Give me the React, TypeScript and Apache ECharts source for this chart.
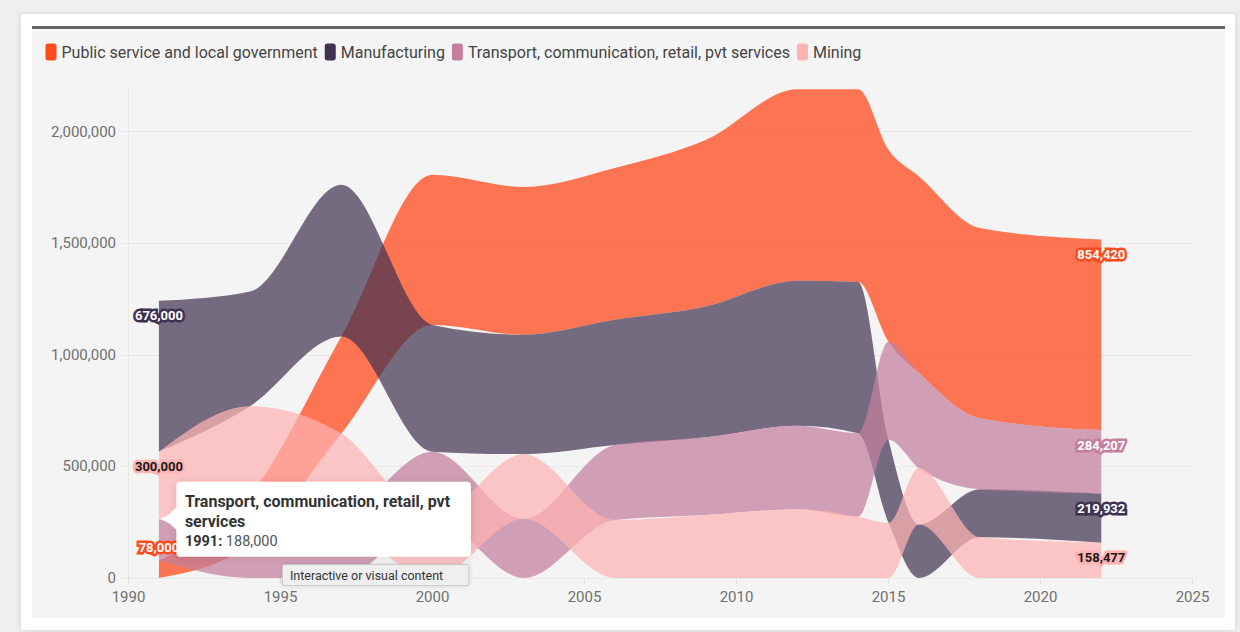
import React, { useEffect, useRef } from "react";
import * as echarts from "echarts";

// ---- data ----
const years = [1991, 1994, 1997, 2000, 2003, 2006, 2009, 2012, 2014, 2015, 2016, 2018, 2022];
const seriesNames = [
  "Public service and local government",
  "Manufacturing",
  "Transport, communication, retail, pvt services",
  "Mining",
];
const publicService = [78000, 220000, 435000, 673000, 662000, 680000, 747000, 858000, 864000, 860000, 881000, 852000, 854420];
const manufacturing = [676000, 514000, 680000, 568000, 535000, 561000, 586000, 650000, 677000, 372000, 240000, 215500, 219932];
const transport = [188000, 150000, 250000, 296000, 265000, 336000, 348000, 374000, 374000, 440000, 426000, 318000, 284207];
const mining = [300000, 400000, 397000, 270000, 290000, 260000, 282500, 308000, 275000, 247000, 253000, 182500, 158477];

const colors = ["#ff4a1c", "#3f3150", "#c47f9e", "#ffb3b3"];
const fillOpacity = [0.75, 0.7, 0.73, 0.72];
const labelTextColors = ["#ffffff", "#ffffff", "#ffffff", "#1a1a1a"];
const tooltipSeries = 2;
const hoverNote = "Interactive or visual content";

const values = [publicService, manufacturing, transport, mining];

// ranked stacking: smallest at the bottom at every year
const lower: number[][] = values.map(() => []);
const upper: number[][] = values.map(() => []);
years.forEach((_, i) => {
  const order = values.map((_, s) => s).sort((a, b) => values[a][i] - values[b][i]);
  let acc = 0;
  order.forEach((s) => {
    lower[s][i] = acc;
    acc += values[s][i];
    upper[s][i] = acc;
  });
});

function rgba(hex: string, a: number) {
  const n = parseInt(hex.slice(1), 16);
  return `rgba(${(n >> 16) & 255},${(n >> 8) & 255},${n & 255},${a})`;
}

function monotoneTangents(xs: number[], ys: number[]) {
  const n = xs.length;
  const t = new Array(n).fill(0);
  const s: number[] = [];
  for (let i = 0; i < n - 1; i++) s.push((ys[i + 1] - ys[i]) / (xs[i + 1] - xs[i]));
  if (n === 2) {
    t[0] = t[1] = s[0];
    return t;
  }
  for (let i = 1; i < n - 1; i++) {
    const h0 = xs[i] - xs[i - 1];
    const h1 = xs[i + 1] - xs[i];
    const s0 = s[i - 1];
    const s1 = s[i];
    const p = (s0 * h1 + s1 * h0) / (h0 + h1);
    t[i] = (Math.sign(s0) + Math.sign(s1)) * Math.min(Math.abs(s0), Math.abs(s1), 0.5 * Math.abs(p)) || 0;
  }
  t[0] = (3 * s[0] - t[1]) / 2;
  t[n - 1] = (3 * s[n - 2] - t[n - 2]) / 2;
  return t;
}

function segments(pts: number[][]) {
  const xs = pts.map((p) => p[0]);
  const ys = pts.map((p) => p[1]);
  const t = monotoneTangents(xs, ys);
  const segs: number[][] = [];
  for (let i = 0; i < pts.length - 1; i++) {
    const h = (xs[i + 1] - xs[i]) / 3;
    segs.push([xs[i] + h, ys[i] + h * t[i], xs[i + 1] - h, ys[i + 1] - h * t[i + 1]]);
  }
  return segs;
}

function bandPath(top: number[][], bot: number[][]) {
  const st = segments(top);
  const sb = segments(bot);
  const f = (v: number) => v.toFixed(2);
  let d = `M${f(top[0][0])},${f(top[0][1])}`;
  for (let i = 0; i < st.length; i++) {
    const c = st[i];
    d += `C${f(c[0])},${f(c[1])},${f(c[2])},${f(c[3])},${f(top[i + 1][0])},${f(top[i + 1][1])}`;
  }
  const n = bot.length;
  d += `L${f(bot[n - 1][0])},${f(bot[n - 1][1])}`;
  for (let i = sb.length - 1; i >= 0; i--) {
    const c = sb[i];
    d += `C${f(c[2])},${f(c[3])},${f(c[0])},${f(c[1])},${f(bot[i][0])},${f(bot[i][1])}`;
  }
  return d + "Z";
}

const fmt = (v: number) => v.toLocaleString("en-US");
const FONT = "Roboto, 'Noto Sans', sans-serif";

function buildOption() {
  const bandSeries = seriesNames.map((name, s) => ({
    type: "custom",
    name,
    coordinateSystem: "cartesian2d",
    itemStyle: { color: colors[s] },
    data: years.map((yr, i) => [yr, lower[s][i], upper[s][i]]),
    encode: { x: 0, y: [1, 2] },
    silent: true,
    z: 2,
    renderItem: (params: any, api: any) => {
      if (params.dataIndex !== 0) return null;
      const top = years.map((yr, i) => api.coord([yr, upper[s][i]]));
      const bot = years.map((yr, i) => api.coord([yr, lower[s][i]]));
      return {
        type: "path",
        shape: { pathData: bandPath(top, bot) },
        style: { fill: rgba(colors[s], fillOpacity[s]), stroke: null },
      };
    },
  }));

  const labelSeries = {
    type: "custom",
    name: "labels",
    coordinateSystem: "cartesian2d",
    data: [[years[0], 0]],
    silent: true,
    z: 5,
    renderItem: (params: any, api: any) => {
      if (params.dataIndex !== 0) return null;
      const bottom = api.coord([years[0], 0])[1];
      const children: any[] = [];
      [0, years.length - 1].forEach((i) => {
        const placed: number[] = [];
        for (let s = 0; s < seriesNames.length; s++) {
          const [px, py] = api.coord([years[i], upper[s][i]]);
          let ly = py + 15;
          if (ly + 8 > bottom) ly = py - 13;
          if (placed.some((q) => Math.abs(q - ly) < 16)) continue;
          placed.push(ly);
          const text = fmt(values[s][i]);
          const base = {
            text,
            x: px,
            y: ly,
            font: `bold 13px ${FONT}`,
            textAlign: "center",
            textVerticalAlign: "middle",
          };
          children.push({
            type: "text",
            style: { ...base, fill: colors[s], stroke: colors[s], lineWidth: 5, lineJoin: "round" },
          });
          children.push({ type: "text", style: { ...base, fill: labelTextColors[s] } });
        }
      });
      return { type: "group", children };
    },
  };

  const tipSeries = {
    type: "custom",
    name: "tooltip",
    coordinateSystem: "cartesian2d",
    data: [[years[0], upper[tooltipSeries][0]]],
    silent: true,
    z: 10,
    renderItem: (params: any, api: any) => {
      const [px, py] = api.coord([years[0], upper[tooltipSeries][0]]);
      const tipX = px + 5;
      const left = tipX + 12.5;
      const top = py - 37;
      return {
        type: "group",
        children: [
          {
            type: "rect",
            shape: { x: left, y: top, width: 294.5, height: 75, r: 4 },
            style: { fill: "#ffffff", shadowBlur: 8, shadowColor: "rgba(0,0,0,0.12)" },
          },
          {
            type: "polygon",
            shape: { points: [[left + 1, py - 12], [tipX, py], [left + 1, py + 12]] },
            style: { fill: "#ffffff" },
          },
          {
            type: "text",
            style: {
              text: seriesNames[tooltipSeries],
              x: left + 8.5,
              y: top + 9.5,
              width: 278,
              overflow: "break",
              lineHeight: 20,
              font: `bold 16px ${FONT}`,
              fill: "#333333",
              textAlign: "left",
              textVerticalAlign: "top",
            },
          },
          {
            type: "text",
            style: {
              text: `{b|${years[0]}:} ${fmt(values[tooltipSeries][0])}`,
              x: left + 8.5,
              y: top + 49.5,
              lineHeight: 20,
              font: `14.5px ${FONT}`,
              fill: "#555555",
              textAlign: "left",
              textVerticalAlign: "top",
              rich: { b: { fontWeight: "bold", fontSize: 14.5, fontFamily: FONT, fill: "#333333", color: "#333333" } },
            },
          },
          {
            type: "rect",
            shape: { x: left + 106, y: top + 83, width: 186.5, height: 21, r: 2 },
            style: { fill: "#efefef", stroke: "#c9c9c9", lineWidth: 1, shadowBlur: 4, shadowColor: "rgba(0,0,0,0.15)" },
          },
          {
            type: "text",
            style: {
              text: hoverNote,
              x: left + 113.5,
              y: top + 93.5,
              font: `12.5px ${FONT}`,
              fill: "#333333",
              textAlign: "left",
              textVerticalAlign: "middle",
            },
          },
        ],
      };
    },
  };

  return {
    animation: false,
    textStyle: { fontFamily: FONT },
    color: colors,
    grid: { left: 128.5, right: 47.5, top: 87, bottom: 54 },
    legend: {
      data: seriesNames,
      left: 45.5,
      top: 43.5,
      padding: 0,
      itemWidth: 11,
      itemHeight: 17,
      itemGap: 7,
      icon: "roundRect",
      textStyle: { color: "#444444", fontSize: 16, fontFamily: FONT },
    },
    xAxis: {
      type: "value",
      min: 1990,
      max: 2025,
      interval: 5,
      axisLine: { show: false },
      axisTick: { show: true, length: 6, lineStyle: { color: "#e2e2e2" } },
      splitLine: { show: false },
      axisLabel: { color: "#707070", fontSize: 15, margin: 11, formatter: (v: number) => String(v) },
    },
    yAxis: {
      type: "value",
      min: 0,
      max: 2200000,
      interval: 500000,
      axisLine: { show: true, lineStyle: { color: "#e8e8e8" } },
      axisTick: { show: true, length: 7, lineStyle: { color: "#e8e8e8" } },
      splitLine: { show: true, showMaxLine: false, lineStyle: { color: "#e8e8e8" } },
      axisLabel: { color: "#707070", fontSize: 15, margin: 12.5, showMaxLabel: false },
    },
    series: [...bandSeries, labelSeries, tipSeries],
  };
}

export default function App() {
  const ref = useRef<HTMLDivElement>(null);
  useEffect(() => {
    if (!ref.current) return;
    const chart = echarts.init(ref.current, undefined, { renderer: "svg" });
    chart.setOption(buildOption() as any);
    return () => chart.dispose();
  }, []);
  return (
    <div style={{ position: "absolute", left: 0, top: 0, width: 1240, height: 632, background: "#efefef", overflow: "hidden" }}>
      <div
        style={{
          position: "absolute",
          left: 21,
          top: 14,
          width: 1214,
          height: 616,
          background: "#ffffff",
          boxShadow: "0 0 6px rgba(0,0,0,0.12)",
        }}
      />
      <div
        style={{
          position: "absolute",
          left: 32,
          top: 26,
          width: 1193,
          height: 589,
          borderTop: "3px solid #666666",
          background: "#f4f4f4",
        }}
      />
      <div ref={ref} style={{ position: "absolute", left: 0, top: 0, width: 1240, height: 632 }} />
    </div>
  );
}
